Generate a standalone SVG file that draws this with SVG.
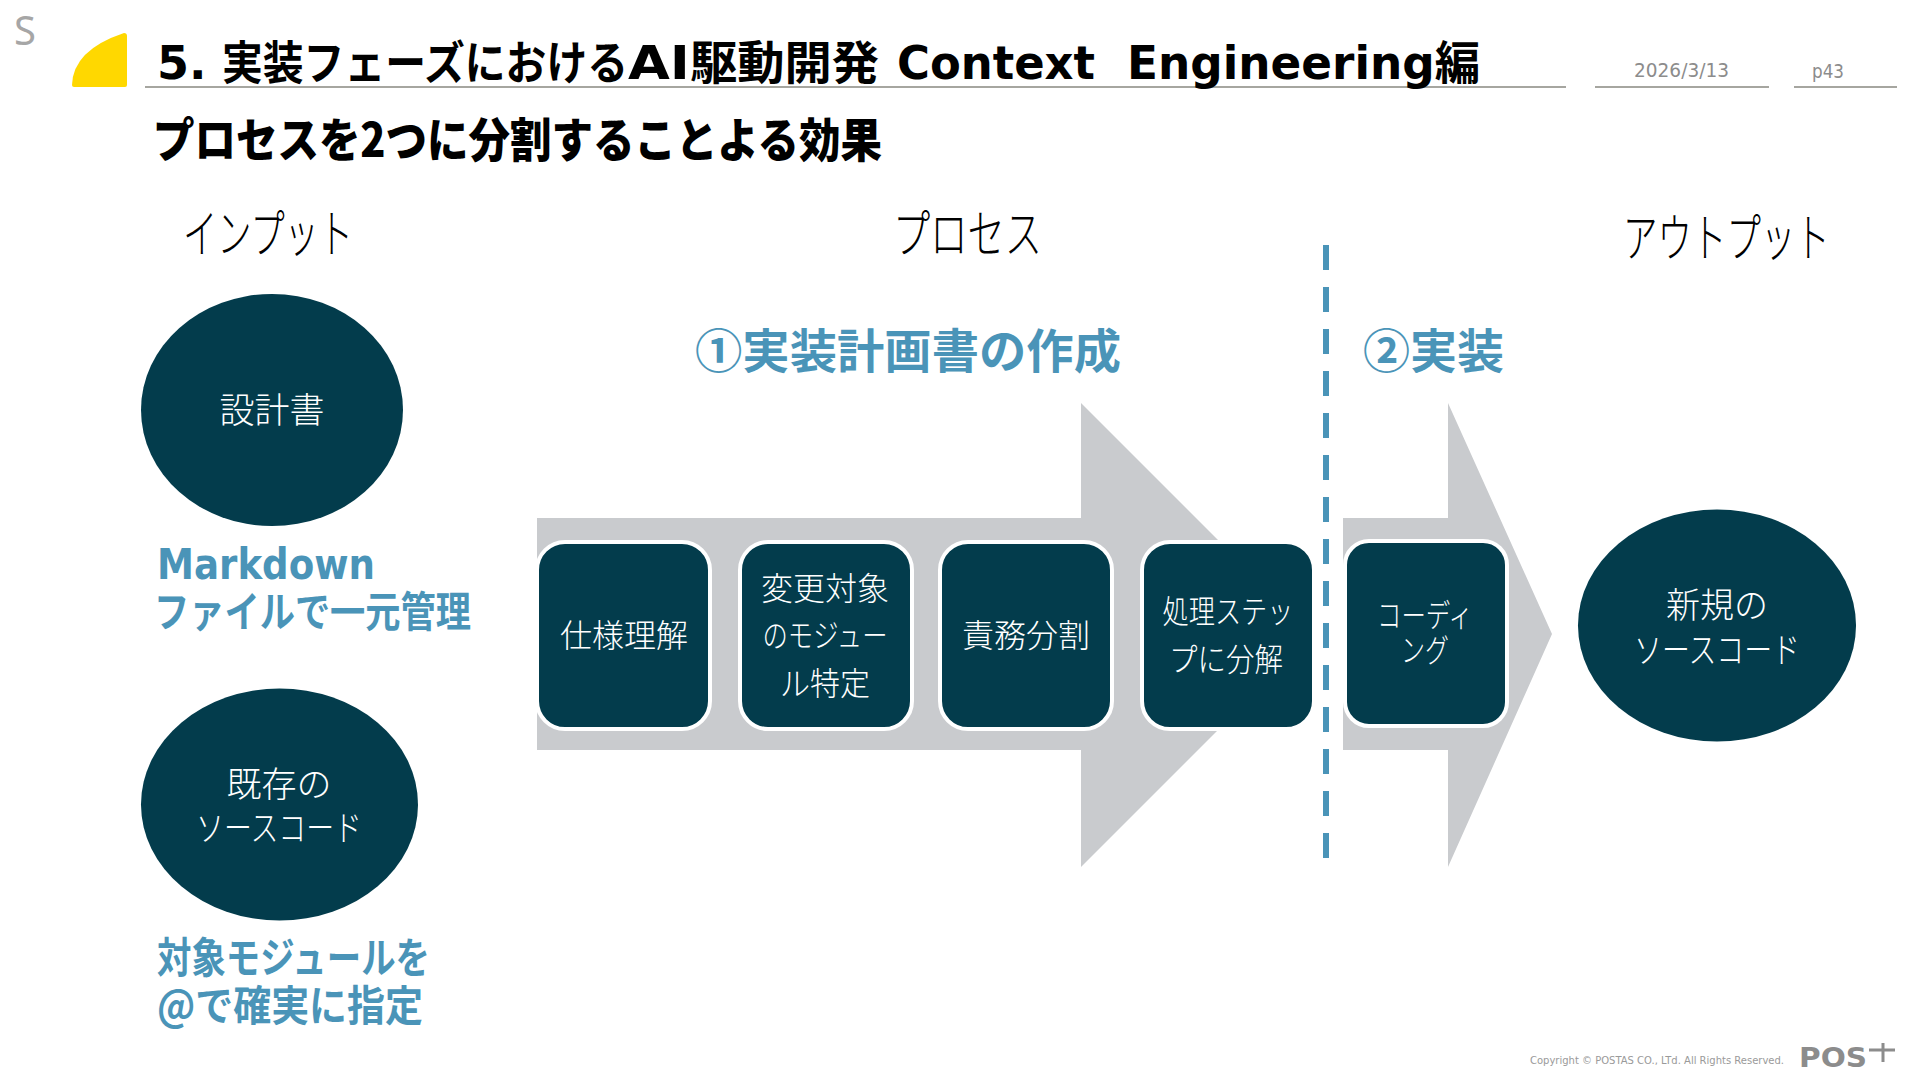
<svg xmlns="http://www.w3.org/2000/svg" width="1920" height="1080" viewBox="0 0 1920 1080">
<style>
text{font-family:"Noto Sans CJK JP","Noto Sans CJK SC",sans-serif}
.lat{font-family:"DejaVu Sans","Noto Sans CJK JP",sans-serif}
.h{font-weight:700;font-size:46px;fill:#000}
.s{font-weight:900;font-size:47px;fill:#000}
.hd{font-size:52px;fill:#000;font-weight:300}
.blue{font-weight:700;fill:#4a94b8;font-size:42px}
.big{font-weight:700;fill:#4a94b8;font-size:47px}
.w{font-size:32px;fill:#fff;font-weight:300;text-anchor:middle}
.o{font-size:35px}
.g{fill:#8c8c8c;font-size:20px}
.n{fill:#033c4c}
.b{fill:#033c4c;stroke:#fff;stroke-width:4}
.u{stroke:#a6a6a0;stroke-width:2}
</style>
<rect width="1920" height="1080" fill="#fff"/>
<text x="14" y="45" style="font-family:'Noto Sans',sans-serif;font-size:40px;fill:#a6a6a6">S</text>
<path d="M72 85Q73 50 124 33Q127 33 127 36V85Q127 87 125 87H74Q72 87 72 85Z" fill="#ffd800"/>
<path class="u" d="M145 87H1566M1595 87H1769M1794 87H1897"/>
<text class="h lat" x="157" y="79">5.</text>
<text class="h" x="222" y="79" textLength="406" lengthAdjust="spacingAndGlyphs">実装フェーズにおける</text>
<text class="h lat" x="628" y="79" textLength="62" lengthAdjust="spacingAndGlyphs">AI</text>
<text class="h" x="690" y="79" textLength="189" lengthAdjust="spacingAndGlyphs">駆動開発</text>
<text class="h lat" x="897" y="79" textLength="198" lengthAdjust="spacingAndGlyphs">Context</text>
<text class="h lat" x="1127" y="79" textLength="353" lengthAdjust="spacingAndGlyphs">Engineering編</text>
<text class="s" x="153" y="157" textLength="729" lengthAdjust="spacingAndGlyphs">プロセスを2つに分割することよる効果</text>
<text class="g lat" x="1634" y="77" textLength="95" lengthAdjust="spacingAndGlyphs">2026/3/13</text>
<text class="g lat" x="1812" y="78" textLength="32" lengthAdjust="spacingAndGlyphs">p43</text>
<text class="hd" x="183" y="253" textLength="170" lengthAdjust="spacingAndGlyphs">インプット</text>
<text class="hd" x="893" y="253" textLength="149" lengthAdjust="spacingAndGlyphs">プロセス</text>
<text class="hd" transform="translate(1623 257) scale(.663 1)">アウトプット</text>
<text class="big" x="695" y="368" textLength="426" lengthAdjust="spacingAndGlyphs">①実装計画書の作成</text>
<text class="big" x="1363" y="368" textLength="141" lengthAdjust="spacingAndGlyphs">②実装</text>
<g id="connectors">
<path d="M537 518H1081V403L1313 635L1081 867V750H537Z" fill="#c9cbce"/>
<path d="M1343 518H1448V403L1552 634L1448 867V750H1343Z" fill="#c9cbce"/>
<path d="M1326 245V860" fill="none" stroke="#4a94b8" stroke-width="6" stroke-dasharray="25 17"/>
</g>
<g id="n1"><ellipse class="n" cx="272" cy="410" rx="131" ry="116"/><text class="w o" x="272" y="423">設計書</text></g>
<g id="n2"><ellipse class="n" cx="279.500" cy="804.500" rx="138.500" ry="116"/><text class="w o" x="279" y="797">既存の</text><text class="w o" x="279" y="841" textLength="166" lengthAdjust="spacingAndGlyphs">ソースコード</text></g>
<g id="n3"><ellipse class="n" cx="1717" cy="625.500" rx="139" ry="116"/><text class="w o" x="1717" y="618" textLength="102" lengthAdjust="spacingAndGlyphs">新規の</text><text class="w o" x="1717" y="663" textLength="166" lengthAdjust="spacingAndGlyphs">ソースコード</text></g>
<text class="blue lat" x="157" y="579" textLength="218" lengthAdjust="spacingAndGlyphs">Markdown</text>
<text class="blue" x="154" y="627" textLength="317" lengthAdjust="spacingAndGlyphs">ファイルで一元管理</text>
<text class="blue" x="157" y="973" textLength="273" lengthAdjust="spacingAndGlyphs">対象モジュールを</text>
<text class="blue" x="157" y="1021" textLength="266" lengthAdjust="spacingAndGlyphs">@で確実に指定</text>
<g id="b1"><rect class="b" x="537" y="542" width="173" height="187" rx="28"/><text class="w" x="624" y="647">仕様理解</text></g>
<g id="b2"><rect class="b" x="740" y="542" width="172" height="187" rx="28"/><text class="w" x="825" y="600">変更対象</text><text class="w" x="825" y="647" textLength="125" lengthAdjust="spacingAndGlyphs">のモジュー</text><text class="w" x="825" y="695" textLength="90" lengthAdjust="spacingAndGlyphs">ル特定</text></g>
<g id="b3"><rect class="b" x="940" y="542" width="172" height="187" rx="28"/><text class="w" x="1026" y="647">責務分割</text></g>
<g id="b4"><rect class="b" x="1142" y="542" width="172" height="187" rx="28"/><text class="w" x="1228" y="623" textLength="131" lengthAdjust="spacingAndGlyphs">処理ステッ</text><text class="w" x="1226" y="671" textLength="114" lengthAdjust="spacingAndGlyphs">プに分解</text></g>
<g id="b5"><rect class="b" x="1345" y="541" width="162" height="185" rx="24"/><text class="w" x="1425" y="627" textLength="96" lengthAdjust="spacingAndGlyphs">コーディ</text><text class="w" x="1425" y="662" textLength="48" lengthAdjust="spacingAndGlyphs">ング</text></g>
<text class="lat" x="1530" y="1064" style="font-size:10.500px;fill:#9a9a9a" textLength="254" lengthAdjust="spacingAndGlyphs">Copyright © POSTAS CO., LTd. All Rights Reserved.</text>
<text class="lat" x="1799" y="1067" style="font-size:26px;font-weight:700;fill:#8c8c8c" textLength="68" lengthAdjust="spacingAndGlyphs">POS</text>
<path d="M1869 1050H1895M1883 1043V1062" stroke="#8c8c8c" stroke-width="3" fill="none"/>
</svg>
